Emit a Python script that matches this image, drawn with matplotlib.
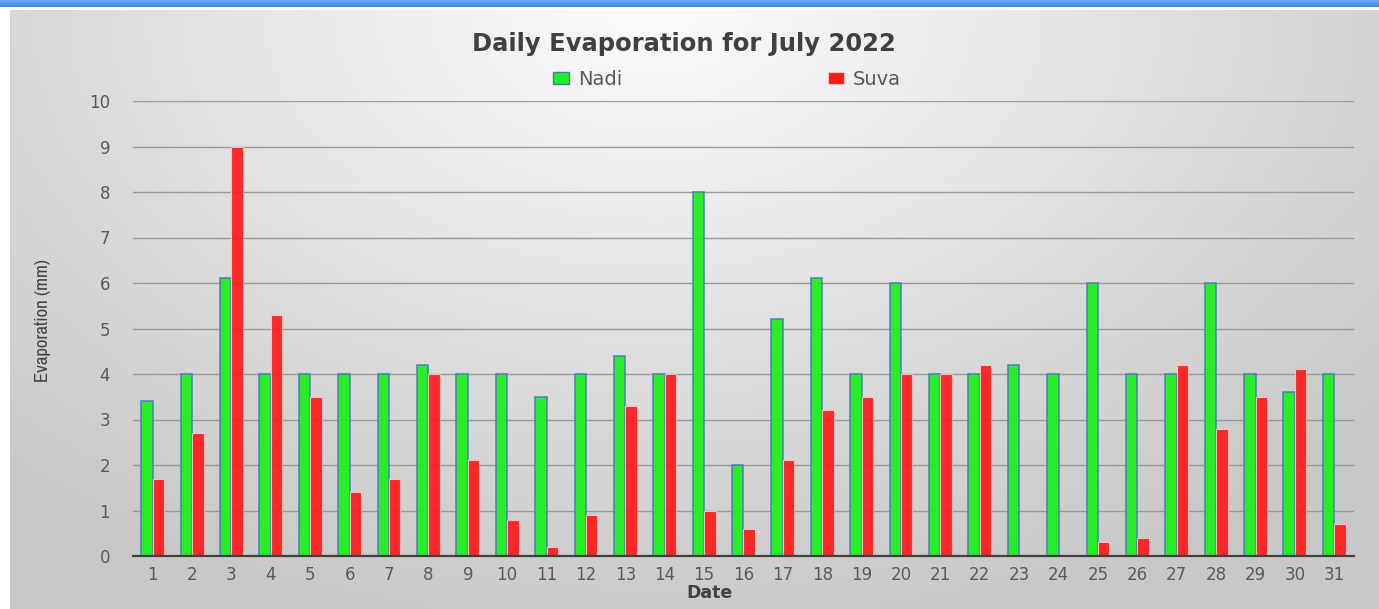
import numpy as np
import matplotlib
matplotlib.use("Agg")
import matplotlib.pyplot as plt
from matplotlib.patches import Patch
from matplotlib import font_manager

days = list(range(1, 32))
nadi = [3.4, 4, 6.1, 4, 4, 4, 4, 4.2, 4, 4, 3.5, 4, 4.4, 4, 8, 2, 5.2, 6.1, 4, 6,
        4, 4, 4.2, 4, 6, 4, 4, 6, 4, 3.6, 4]
suva = [1.7, 2.7, 9, 5.3, 3.5, 1.4, 1.7, 4, 2.1, 0.8, 0.2, 0.9, 3.3, 4, 1.0, 0.6,
        2.1, 3.2, 3.5, 4, 4, 4.2, 0, 0, 0.3, 0.4, 4.2, 2.8, 3.5, 4.1, 0.7]
yticks = list(range(0, 11))

W, H = 1379, 609
fig = plt.figure(figsize=(W / 100, H / 100), dpi=100)
fig.patch.set_facecolor("white")

# blue band at top
band = fig.add_axes([0, 1 - 7 / H, 1, 7 / H])
grad = np.linspace(0, 1, 50).reshape(-1, 1)
band.imshow(grad, aspect="auto", cmap=matplotlib.colors.LinearSegmentedColormap.from_list(
    "b", ["#6aaaf8", "#3f86ec"]), extent=[0, 1, 0, 1])
band.axis("off")

# radial gradient background
bg = fig.add_axes([10 / W, 0, 1 - 10 / W, 1 - 10 / H])
yy, xx = np.mgrid[0:1:300j, 0:1:600j]
r = np.sqrt(((xx - 0.47) * 1.35) ** 2 + ((yy - 0.0) * 0.9) ** 2)
r = np.clip(r / 0.95, 0, 1)
cm = matplotlib.colors.LinearSegmentedColormap.from_list(
    "g", ["#fbfbfb", "#ebebeb", "#d8d8d8", "#c8c8c8"])
bg.imshow(r, aspect="auto", cmap=cm, extent=[0, 1, 1, 0], vmin=0, vmax=1)
bg.set_xlim(0, 1); bg.set_ylim(1, 0)
bg.axis("off")

ax = fig.add_axes([133 / W, 1 - 556 / H, (1354 - 133) / W, (556 - 101) / H])
ax.set_facecolor("none")
x = np.array(days, dtype=float)
bw = 0.29
ax.bar(x - bw / 2, nadi, width=bw, color="#1ef01e", edgecolor="#4a78c0",
       linewidth=1.1, alpha=0.95, zorder=3)
ax.bar(x + bw / 2, suva, width=bw, color="#ff1a1a", edgecolor="#ffc4c4",
       linewidth=0.8, alpha=0.92, zorder=3)

ax.set_xlim(0.5, 31.5)
ax.set_ylim(0, 10)
ax.set_yticks(yticks)
ax.set_xticks(days)
ax.set_xticklabels([str(d) for d in days])
ax.yaxis.grid(True, color="#999999", linewidth=1.0, zorder=1)
ax.set_axisbelow(True)
for s in ["top", "right", "left"]:
    ax.spines[s].set_visible(False)
ax.spines["bottom"].set_color("#404040")
ax.spines["bottom"].set_linewidth(1.6)
ax.spines["bottom"].set_zorder(4)
ax.tick_params(axis="both", length=0, labelsize=12, labelcolor="#595959")
ax.tick_params(axis="x", pad=7.5)
ax.tick_params(axis="y", pad=16.5)

fig.text(710 / W, 1 - 593 / H, "Date", ha="center", va="center",
         fontsize=12.5, fontweight="bold", color="#404040")

# condensed font for the y label if available
cond = None
for f in font_manager.fontManager.ttflist:
    if "Narrow" in f.name or "Condensed" in f.name:
        cond = f.name
        break
if cond is not None:
    fig.text(43 / W, 1 - 321 / H, "Evaporation (mm)", rotation=90, ha="center", va="center",
             fontsize=13.5, color="#404040", family=[cond, "DejaVu Sans"])
else:
    fig.text(43 / W, 1 - 321 / H, "Evaporation (mm)", rotation=90, ha="center", va="center",
             fontsize=12, color="#404040", fontstretch="condensed",
             family=["DejaVu Sans"])

fig.text(684 / W, 1 - 44 / H, "Daily Evaporation for July 2022", ha="center", va="center",
         fontsize=17.5, fontweight="bold", color="#404040")

handles = [Patch(facecolor="#1ef01e", edgecolor="#4a78c0", linewidth=1.0, label="Nadi"),
           Patch(facecolor="#ff1a1a", edgecolor="#ffc4c4", linewidth=0.8, label="Suva")]
leg = fig.legend(handles=handles, loc="center left", bbox_to_anchor=(553 / W, 1 - 79.5 / H),
                 ncol=2, frameon=False, fontsize=14, handlelength=0.82, handleheight=0.57,
                 handletextpad=0.46, columnspacing=10.6, labelcolor="#595959",
                 borderpad=0, borderaxespad=0)

fig.savefig("out.png", dpi=100)
